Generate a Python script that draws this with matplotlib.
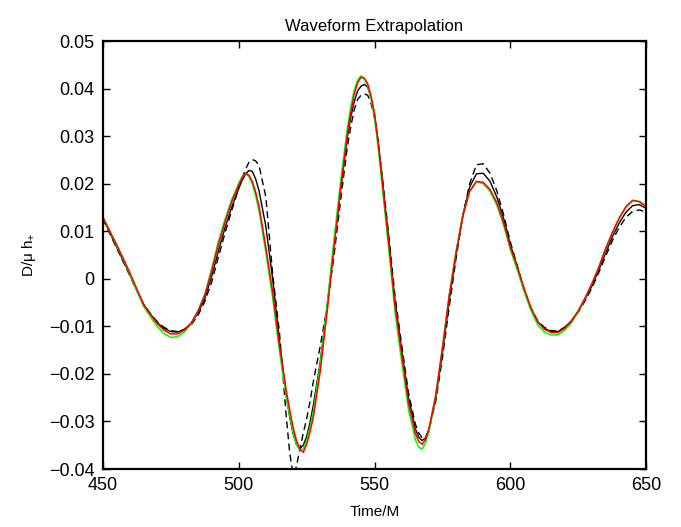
import numpy as np
import matplotlib
matplotlib.use('Agg')
import matplotlib.pyplot as plt
from matplotlib.ticker import FuncFormatter

plt.rcParams['font.family'] = ['Liberation Sans', 'DejaVu Sans']
plt.rcParams['mathtext.fontset'] = 'custom'
plt.rcParams['mathtext.rm'] = 'Liberation Sans'
plt.rcParams['mathtext.it'] = 'Liberation Sans'

# sample times (denser around the sharp extrema)
time = np.r_[np.arange(450, 500, 2.5),
             np.arange(500, 508, 1.25),
             [510, 512.5, 515, 517.5],
             np.arange(518.75, 528, 1.25),
             [530, 532.5, 535, 537.5],
             np.arange(540, 553, 1.25),
             [555, 557.5, 560, 562.5],
             np.arange(565, 571, 1.25),
             np.arange(572.5, 651, 2.5)]

# red curve
h_red = [0.0130, 0.0101, 0.0073, 0.0043, 0.0012, -0.0021, -0.0054, -0.0075, -0.0094, -0.0108,
         -0.0116, -0.0116, -0.0108, -0.0093, -0.0068, -0.0035, 0.0015, 0.0072, 0.0120, 0.0163,
         0.0197, 0.0212, 0.0222, 0.0218, 0.0205, 0.0182, 0.0152,
         0.0066, -0.0028, -0.0140, -0.0235,
         -0.0275, -0.0312, -0.0340, -0.0358, -0.0365, -0.0348, -0.0322, -0.0290,
         -0.0195, -0.0072, 0.0062, 0.0190,
         0.0305, 0.0350, 0.0388, 0.0412, 0.0424, 0.0422, 0.0410, 0.0384, 0.0347, 0.0290, 0.0224,
         0.0087, -0.0055, -0.0160, -0.0262,
         -0.0325, -0.0342, -0.0348, -0.0338, -0.0316,
         -0.0245, -0.0145, -0.0035, 0.0055, 0.0132, 0.0184, 0.0205, 0.0203, 0.0188, 0.0160,
         0.0118, 0.0066, 0.0025, -0.0020, -0.0060, -0.0090, -0.0106, -0.0113, -0.0113, -0.0104,
         -0.0089, -0.0067, -0.0040, -0.0010, 0.0024, 0.0063, 0.0097, 0.0127, 0.0151, 0.0165,
         0.0162, 0.0152]

# green curve
h_green = [0.0130, 0.0100, 0.0071, 0.0041, 0.0009, -0.0025, -0.0058, -0.0080, -0.0100, -0.0115,
           -0.0123, -0.0122, -0.0112, -0.0095, -0.0068, -0.0033, 0.0020, 0.0078, 0.0126, 0.0168,
           0.0201, 0.0215, 0.0222, 0.0215, 0.0200, 0.0175, 0.0143,
           0.0055, -0.0040, -0.0152, -0.0248,
           -0.0287, -0.0322, -0.0348, -0.0360, -0.0358, -0.0340, -0.0312, -0.0278,
           -0.0180, -0.0058, 0.0078, 0.0205,
           0.0318, 0.0362, 0.0396, 0.0418, 0.0427, 0.0421, 0.0406, 0.0377, 0.0338, 0.0280, 0.0212,
           0.0075, -0.0068, -0.0175, -0.0275,
           -0.0338, -0.0354, -0.0358, -0.0345, -0.0322,
           -0.0248, -0.0145, -0.0033, 0.0058, 0.0134, 0.0184, 0.0204, 0.0200, 0.0184, 0.0155,
           0.0113, 0.0061, 0.0019, -0.0026, -0.0066, -0.0096, -0.0112, -0.0118, -0.0118, -0.0108,
           -0.0092, -0.0069, -0.0041, -0.0010, 0.0024, 0.0062, 0.0097, 0.0128, 0.0152, 0.0165,
           0.0163, 0.0153]

# black solid curve
h_black = [0.0128, 0.0098, 0.0068, 0.0038, 0.0008, -0.0024, -0.0054, -0.0074, -0.0092, -0.0104,
           -0.0111, -0.0112, -0.0106, -0.0094, -0.0072, -0.0042, 0.0004, 0.0058, 0.0108, 0.0152,
           0.0190, 0.0207, 0.0220, 0.0228, 0.0226, 0.0210, 0.0185,
           0.0110, 0.0000, -0.0130, -0.0245,
           -0.0290, -0.0325, -0.0348, -0.0357, -0.0350, -0.0332, -0.0302, -0.0265,
           -0.0175, -0.0060, 0.0068, 0.0188,
           0.0298, 0.0340, 0.0372, 0.0395, 0.0405, 0.0409, 0.0403, 0.0380, 0.0345, 0.0292, 0.0228,
           0.0095, -0.0045, -0.0150, -0.0250,
           -0.0315, -0.0333, -0.0340, -0.0335, -0.0318,
           -0.0252, -0.0155, -0.0045, 0.0052, 0.0135, 0.0193, 0.0221, 0.0222, 0.0205, 0.0172,
           0.0127, 0.0072, 0.0026, -0.0022, -0.0062, -0.0090, -0.0104, -0.0111, -0.0111, -0.0102,
           -0.0088, -0.0068, -0.0043, -0.0015, 0.0018, 0.0054, 0.0088, 0.0117, 0.0140, 0.0154,
           0.0156, 0.0148]

# black dashed curve
h_dashed = [0.0126, 0.0096, 0.0066, 0.0036, 0.0006, -0.0025, -0.0053, -0.0073, -0.0090, -0.0102,
            -0.0109, -0.0111, -0.0107, -0.0097, -0.0077, -0.0048, -0.0008, 0.0045, 0.0097, 0.0145,
            0.0190, 0.0212, 0.0230, 0.0245, 0.0251, 0.0248, 0.0238,
            0.0172, 0.0010, -0.0113, -0.0289,
            -0.0365, -0.0412, -0.0395, -0.0358, -0.0325, -0.0295, -0.0258, -0.0215,
            -0.0142, -0.0060, 0.0045, 0.0165,
            0.0278, 0.0320, 0.0355, 0.0377, 0.0386, 0.0389, 0.0386, 0.0368, 0.0338, 0.0290, 0.0232,
            0.0103, -0.0035, -0.0140, -0.0240,
            -0.0305, -0.0324, -0.0334, -0.0333, -0.0318,
            -0.0258, -0.0165, -0.0058, 0.0043, 0.0133, 0.0200, 0.0240, 0.0242, 0.0222, 0.0185,
            0.0135, 0.0077, 0.0028, -0.0022, -0.0061, -0.0088, -0.0102, -0.0109, -0.0110, -0.0102,
            -0.0089, -0.0070, -0.0046, -0.0019, 0.0013, 0.0047, 0.0080, 0.0108, 0.0129, 0.0142,
            0.0145, 0.0140]

fig = plt.figure(figsize=(6.81, 5.27), dpi=100)
ax = fig.add_axes([0.151, 0.110, 0.798, 0.812])

ax.plot(time, h_dashed, color='black', linestyle='--', linewidth=1.0, dashes=(5, 3))
ax.plot(time, h_black, color='black', linewidth=1.0)
ax.plot(time, h_green, color='#00ff00', linewidth=1.1)
ax.plot(time, h_red, color='#ff0000', linewidth=1.1)

ax.set_xlim(450, 650)
ax.set_ylim(-0.04, 0.05)
ax.set_xticks([450, 500, 550, 600, 650])
ax.set_yticks(np.arange(-0.04, 0.0501, 0.01))


def yfmt(v, pos):
    if abs(v) < 1e-9:
        return '0'
    s = '%.2f' % v
    return s.replace('-', '\u2212')


ax.yaxis.set_major_formatter(FuncFormatter(yfmt))
ax.tick_params(direction='in', length=5, width=1.0, top=True, right=True, labelsize=13, pad=6)
for sp in ax.spines.values():
    sp.set_linewidth(1.6)

ax.set_title('Waveform Extrapolation', fontsize=12, pad=7)
ax.set_xlabel('Time/M', fontsize=11, labelpad=8)
ax.set_ylabel('D/\u03bc h$_{+}$', fontsize=11, labelpad=8)

fig.savefig('out.png', dpi=100)
